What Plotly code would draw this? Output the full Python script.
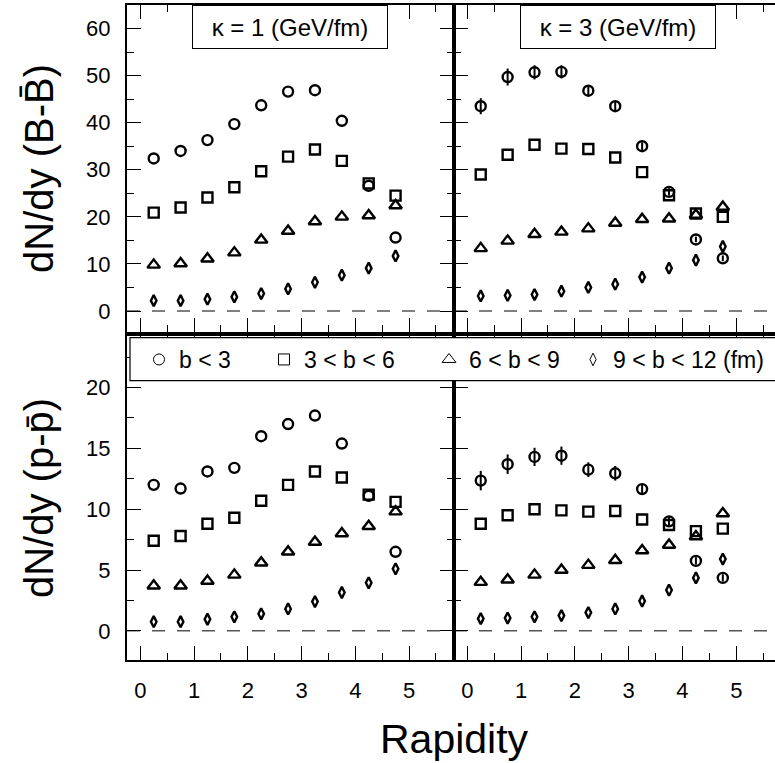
import plotly.graph_objects as go

# ---------------- data ----------------
rapidity = [0.25, 0.75, 1.25, 1.75, 2.25, 2.75, 3.25, 3.75, 4.25, 4.75]
series_names = ["b < 3", "3 < b < 6", "6 < b < 9", "9 < b < 12 (fm)"]
panel_labels = ["κ = 1 (GeV/fm)", "κ = 3 (GeV/fm)"]
ytitles = ["dN/dy (B-B̄)", "dN/dy (p-p̄)"]

# kappa = 1, net baryons
bb_k1_b3 = [32.4, 34.0, 36.3, 39.7, 43.7, 46.6, 46.9, 40.4, 26.6, 15.6]
bb_k1_b6 = [20.9, 22.0, 24.1, 26.3, 29.7, 32.8, 34.3, 31.9, 27.1, 24.5]
bb_k1_b9 = [9.8, 10.1, 11.1, 12.4, 15.1, 17.0, 19.0, 20.0, 20.3, 22.4]
bb_k1_b12 = [2.2, 2.2, 2.5, 3.0, 3.7, 4.7, 6.1, 7.6, 9.1, 11.7]

# kappa = 3, net baryons
bb_k3_b3 = [43.5, 49.7, 50.7, 50.8, 46.8, 43.5, 35.0, 25.3, 15.2, 11.2]
bb_k3_b3_err = [1.7, 1.8, 1.5, 1.4, 1.0, 1.0, 0.8, 0.8, 0.6, 0.6]
bb_k3_b6 = [29.0, 33.2, 35.3, 34.5, 34.4, 32.6, 29.5, 24.6, 20.7, 20.0]
bb_k3_b9 = [13.3, 14.9, 16.3, 16.8, 17.5, 18.7, 19.5, 19.6, 20.4, 22.1]
bb_k3_b12 = [3.2, 3.3, 3.5, 4.2, 5.0, 5.7, 7.2, 9.1, 10.8, 13.7]

# kappa = 1, net protons
pp_k1_b3 = [12.0, 11.7, 13.1, 13.4, 16.0, 17.0, 17.7, 15.4, 11.1, 6.5]
pp_k1_b6 = [7.4, 7.8, 8.8, 9.3, 10.7, 12.0, 13.1, 12.6, 11.2, 10.6]
pp_k1_b9 = [3.7, 3.7, 4.1, 4.6, 5.6, 6.5, 7.3, 8.0, 8.6, 9.8]
pp_k1_b12 = [0.75, 0.75, 0.95, 1.15, 1.4, 1.8, 2.4, 3.15, 3.95, 5.1]

# kappa = 3, net protons
pp_k3_b3 = [12.35, 13.7, 14.3, 14.4, 13.25, 12.95, 11.65, 9.0, 5.75, 4.35]
pp_k3_b3_err = [0.8, 0.8, 0.75, 0.75, 0.6, 0.6, 0.4, 0.35, 0.3, 0.3]
pp_k3_b6 = [8.8, 9.5, 10.0, 9.9, 9.8, 9.85, 9.15, 8.7, 8.2, 8.4]
pp_k3_b9 = [4.0, 4.2, 4.6, 5.0, 5.4, 5.8, 6.6, 7.05, 7.75, 9.65]
pp_k3_b12 = [1.0, 1.05, 1.15, 1.25, 1.5, 1.8, 2.45, 3.35, 4.35, 5.9]

# ---------------- layout helpers ----------------
W, H = 775, 763
ML, MR, MT, MB = 127, 0, 5, 103
PW = W - ML - MR
PH = H - MT - MB


def fx(px):
    return (px - ML) / PW


def fy(py):
    return (H - MB - py) / PH


FONT = "Liberation Sans, Arial, Helvetica, sans-serif"
symbols = ["circle-open", "square-open", "triangle-up-open", "diamond-tall-open"]
sizes = [10, 10, 11, 8]
legend_ids = ["legend", "legend2", "legend3", "legend4"]
legend_px = [139, 264, 429, 573]

fig = go.Figure()

panels = [
    ("x", "y", [bb_k1_b3, bb_k1_b6, bb_k1_b9, bb_k1_b12], None),
    ("x2", "y2", [bb_k3_b3, bb_k3_b6, bb_k3_b9, bb_k3_b12], bb_k3_b3_err),
    ("x3", "y3", [pp_k1_b3, pp_k1_b6, pp_k1_b9, pp_k1_b12], None),
    ("x4", "y4", [pp_k3_b3, pp_k3_b6, pp_k3_b9, pp_k3_b12], pp_k3_b3_err),
]

# legend entries (thin symbols like the original key)
for i, name in enumerate(series_names):
    fig.add_trace(go.Scatter(
        x=[None], y=[None], mode="markers", name=name, legendgroup=name,
        legend=legend_ids[i],
        marker=dict(symbol=symbols[i], size=sizes[i] + 1, color="black",
                    line=dict(width=1, color="black")),
        xaxis="x3", yaxis="y3", showlegend=True))

for xa, ya, series, err in panels:
    for i, vals in enumerate(series):
        tr = dict(
            x=rapidity, y=vals, mode="markers", name=series_names[i],
            legendgroup=series_names[i], showlegend=False,
            marker=dict(symbol=symbols[i], size=sizes[i], color="black",
                        line=dict(width=2.4, color="black")),
            xaxis=xa, yaxis=ya)
        if i == 0 and err is not None:
            tr["error_y"] = dict(type="data", array=err, visible=True,
                                 color="black", thickness=2, width=0)
        fig.add_trace(go.Scatter(**tr))

common = dict(showline=True, linewidth=2, linecolor="black",
              ticks="inside", ticklen=14, tickwidth=1.2, tickcolor="black",
              showgrid=False, zeroline=False,
              tickfont=dict(family=FONT, size=22, color="black"))

xl = [0, fx(454)]
xr = [fx(454), 1]
yt = [fy(332), 1]
yb = [0, fy(336)]

xrange_l = [-0.247, 5.837]
xrange_r = [-0.247, 5.72]
yrange_t = [-4.46, 65.0]
yrange_b = [-2.4, 24.24]

xminor = dict(ticks="inside", ticklen=7, tickwidth=1.2, tickcolor="black", dtick=0.5, showgrid=False)
yminor_t = dict(ticks="inside", ticklen=7, tickwidth=1.2, tickcolor="black", dtick=5, showgrid=False)
yminor_b = dict(ticks="inside", ticklen=7, tickwidth=1.2, tickcolor="black", dtick=2.5, showgrid=False)

title_font = dict(family=FONT, size=40, color="black")

fig.update_layout(
    xaxis=dict(domain=xl, range=xrange_l, anchor="y", tick0=0, dtick=1, minor=xminor,
               showticklabels=False, mirror="ticks", **common),
    xaxis2=dict(domain=xr, range=xrange_r, anchor="y2", tick0=0, dtick=1, minor=xminor,
                showticklabels=False, mirror="ticks", **common),
    xaxis3=dict(domain=xl, range=xrange_l, anchor="y3", tick0=0, dtick=1, minor=xminor,
                ticklabelstandoff=10, mirror="ticks", **common),
    xaxis4=dict(domain=xr, range=xrange_r, anchor="y4", tick0=0, dtick=1, minor=xminor,
                ticklabelstandoff=10, mirror="ticks", **common),
    yaxis=dict(domain=yt, range=yrange_t, anchor="x", tick0=0, dtick=10, minor=yminor_t,
               ticklabelstandoff=10, mirror="ticks",
               title=dict(text=ytitles[0], font=title_font, standoff=20), **common),
    yaxis2=dict(domain=yt, range=yrange_t, anchor="x2", tick0=0, dtick=10, minor=yminor_t,
                showticklabels=False, mirror=False, **common),
    yaxis3=dict(domain=yb, range=yrange_b, anchor="x3", tick0=0, dtick=5, minor=yminor_b,
                ticklabelstandoff=10, mirror="ticks",
                title=dict(text=ytitles[1], font=title_font, standoff=20), **common),
    yaxis4=dict(domain=yb, range=yrange_b, anchor="x4", tick0=0, dtick=5, minor=yminor_b,
                showticklabels=False, mirror=False, **common),
)

shapes = []
for xa, ya in [("x", "y"), ("x2", "y2"), ("x3", "y3"), ("x4", "y4")]:
    shapes.append(dict(type="line", xref=f"{xa} domain", x0=0, x1=1, yref=ya, y0=0, y1=0,
                       line=dict(color="#555555", width=1.5, dash="13px,12px"), layer="below"))
# legend frame
shapes.append(dict(type="rect", xref="paper", yref="paper", x0=fx(130), x1=fx(800),
                   y0=fy(380.7), y1=fy(337.7), fillcolor="white",
                   line=dict(color="black", width=1.2), layer="above"))

annotations = [
    dict(text=panel_labels[0], xref="paper", yref="paper", x=fx(290.3), y=fy(27), xanchor="center", yanchor="middle",
         showarrow=False, font=dict(family=FONT, size=24, color="black"), bordercolor="black", borderwidth=1,
         borderpad=0, width=194, height=42, bgcolor="white"),
    dict(text=panel_labels[1], xref="paper", yref="paper", x=fx(617.7), y=fy(27), xanchor="center", yanchor="middle",
         showarrow=False, font=dict(family=FONT, size=24, color="black"), bordercolor="black", borderwidth=1,
         borderpad=0, width=194, height=42, bgcolor="white"),
    dict(text="Rapidity", xref="paper", yref="paper", x=fx(454), y=fy(739), xanchor="center", yanchor="middle",
         showarrow=False, font=dict(family=FONT, size=41, color="black")),
]

legend_common = dict(orientation="h", y=fy(338), xanchor="left", yanchor="top",
                     font=dict(family=FONT, size=23, color="black"), bgcolor="rgba(0,0,0,0)",
                     borderwidth=0, itemwidth=30, tracegroupgap=0)

fig.update_layout(
    width=W, height=H, margin=dict(l=ML, r=MR, t=MT, b=MB, pad=0),
    paper_bgcolor="white", plot_bgcolor="white",
    font=dict(family=FONT, color="black"),
    shapes=shapes, annotations=annotations,
    showlegend=True,
    legend=dict(x=fx(legend_px[0]), **legend_common),
    legend2=dict(x=fx(legend_px[1]), **legend_common),
    legend3=dict(x=fx(legend_px[2]), **legend_common),
    legend4=dict(x=fx(legend_px[3]), **legend_common),
)

fig.write_html("out.html", config={"displayModeBar": False},
               post_script="document.body.style.margin='0px';")
